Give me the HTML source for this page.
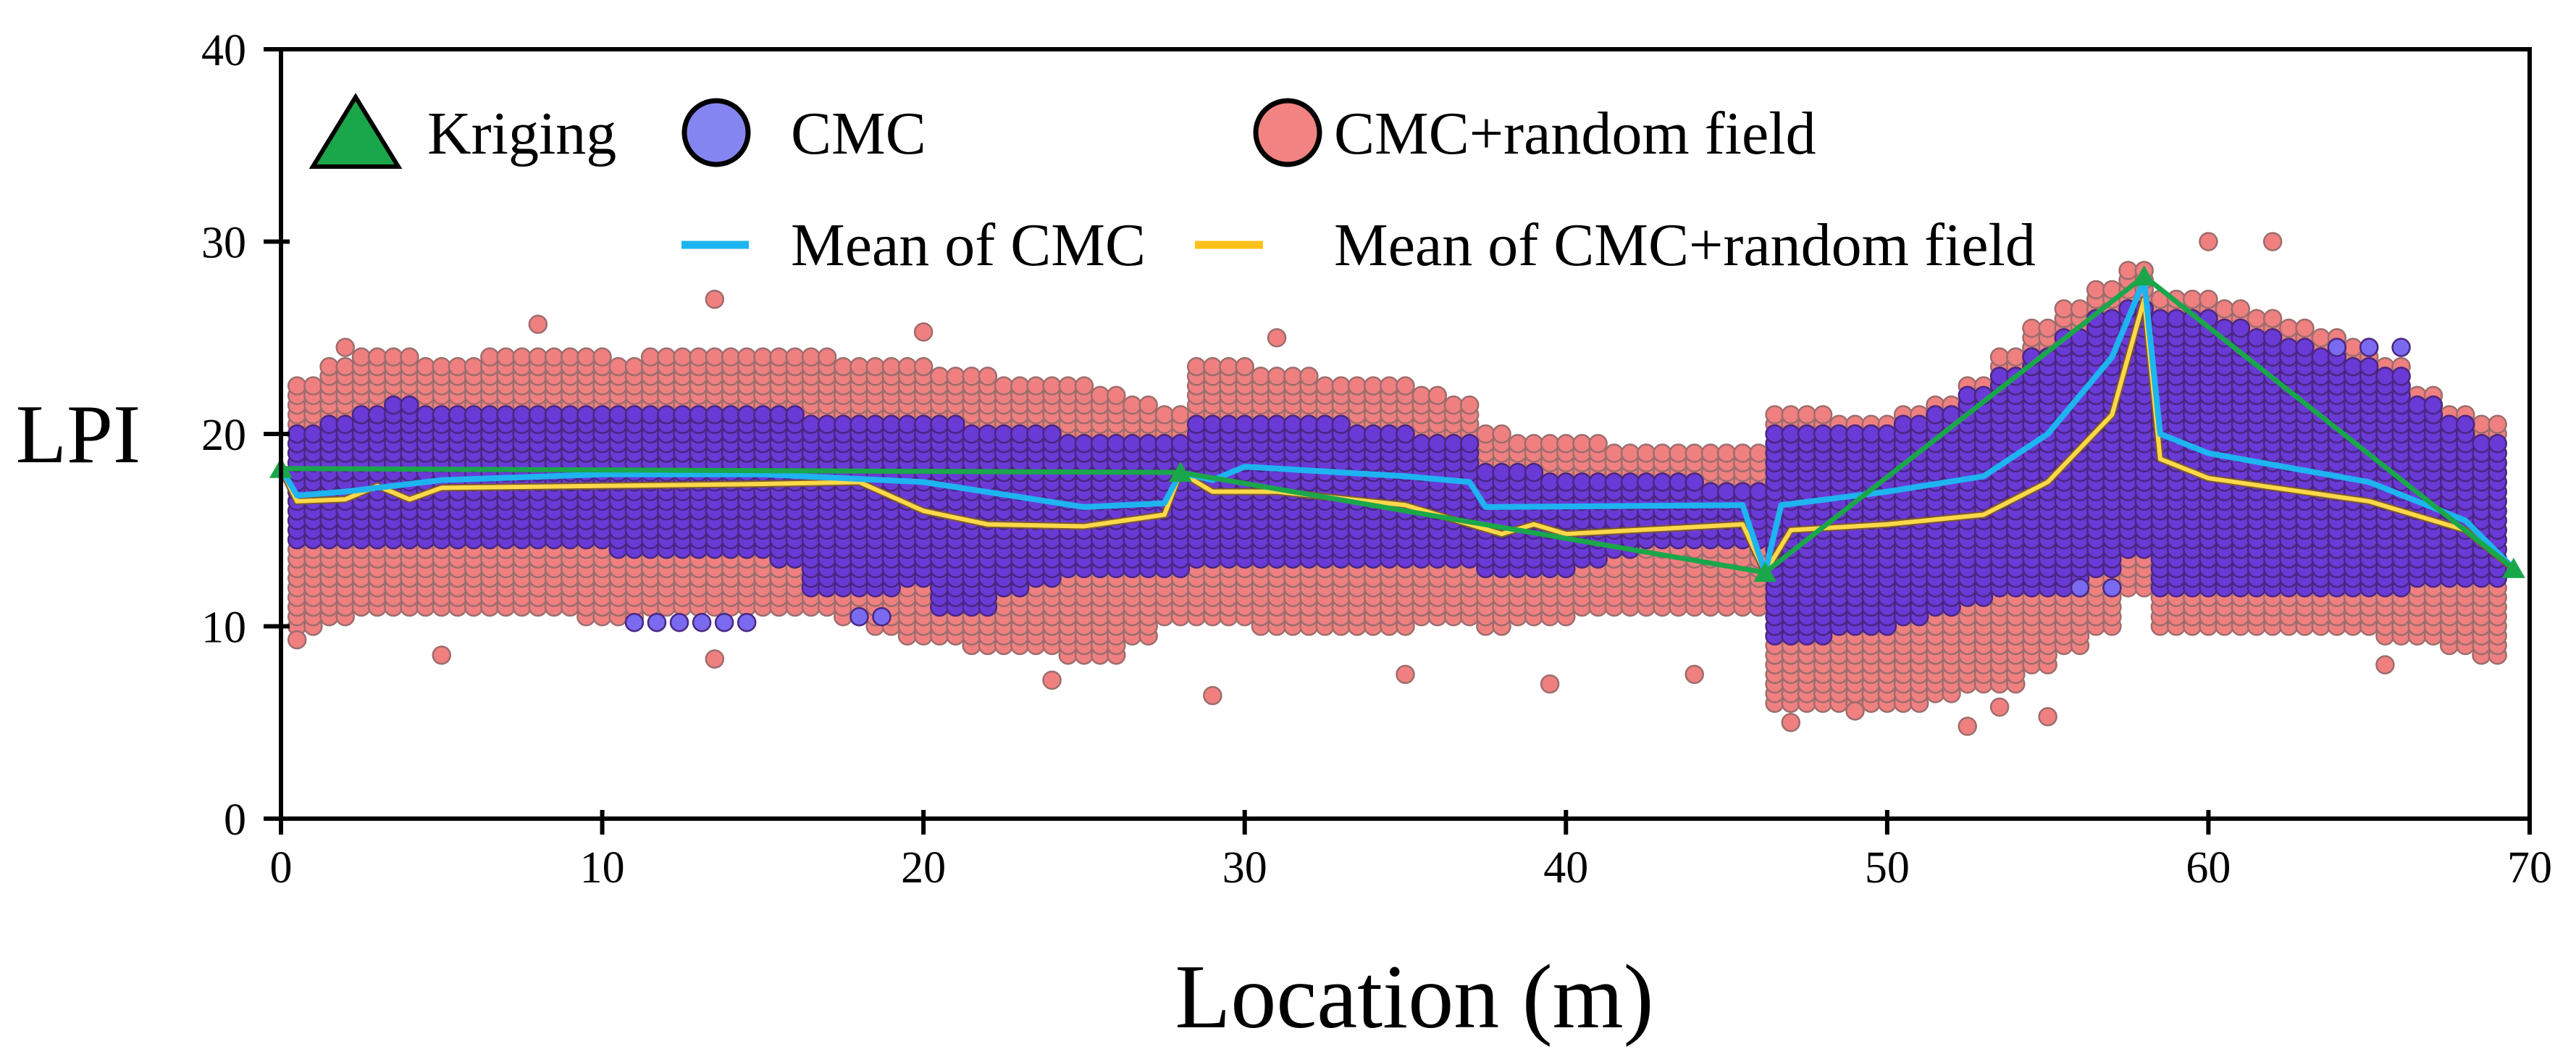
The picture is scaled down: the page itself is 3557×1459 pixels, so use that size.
<!DOCTYPE html>
<html><head><meta charset="utf-8"><style>
html,body{margin:0;padding:0;background:#fff;}
svg{display:block;font-family:"Liberation Serif",serif;}
</style></head><body>
<svg id="chart" width="3557" height="1459" viewBox="0 0 3557 1459">
<g id="rf"></g>
<g id="cmc"></g>
<g id="lines"></g>
<g id="axes"></g>
<g id="legend">
  <g>
    <polygon points="432,230 491,134 550,230" fill="#1aa64a" stroke="#000" stroke-width="6"/>
    <text x="590" y="212" font-size="84">Kriging</text>
  </g>
  <g>
    <circle cx="989" cy="183" r="44" fill="#8585f2" stroke="#000" stroke-width="7"/>
    <text x="1092" y="212" font-size="84">CMC</text>
  </g>
  <g>
    <circle cx="1778" cy="183" r="44" fill="#f28383" stroke="#000" stroke-width="7"/>
    <text x="1842" y="212" font-size="84">CMC+random field</text>
  </g>
  <g>
    <line x1="941" y1="338" x2="1034" y2="338" stroke="#1eb4f0" stroke-width="11"/>
    <text x="1092" y="366" font-size="84">Mean of CMC</text>
  </g>
  <g>
    <line x1="1650" y1="338" x2="1744" y2="338" stroke="#ffc21a" stroke-width="11"/>
    <text x="1842" y="366" font-size="84">Mean of CMC+random field</text>
  </g>
</g>
<text x="108" y="638" font-size="115" text-anchor="middle">LPI</text>
<text x="1953" y="1418" font-size="126" text-anchor="middle">Location (m)</text>
</svg>
<script>
const xTicks=[0,10,20,30,40,50,60,70];
const yTicks=[0,10,20,30,40];
const locs=[0.5,1.5,2.5,3.5,4.5,5.5,6.5,7.5,8.5,9.5,10.5,11.5,12.5,13.5,14.5,15.5,16.5,17.5,18.5,19.5,20.5,21.5,22.5,23.5,24.5,25.5,26.5,27.5,
28.5,29.5,30.5,31.5,32.5,33.5,34.5,35.5,36.5,37.5,38.5,39.5,40.5,41.5,42.5,43.5,44.5,45.5,
46.5,47.5,48.5,49.5,50.5,51.5,52.5,53.5,54.5,55.5,56.5,57.5,
58.5,59.5,60.5,61.5,62.5,63.5,64.5,65.5,66.5,67.5,68.5];
const cmcLo=[14.5,14.5,14.5,14.5,14.5,14.5,14.5,14.5,14.5,14.5,14,14,14,14,14,13.5,12,12,12,12.5,11,11,12,12.5,13,13,13,13,
13.5,13.5,13.5,13.5,13.5,13.5,13.5,13.5,13.5,13,13,13,13.5,14,14.5,14.5,14.5,14.5,
9.5,9.5,10,10,10.5,11,11.5,12,12,12,13,14,
12,12,12,12,12,12,12,12,12.5,12.5,12.5];
const cmcHi=[20,20.5,21,21.5,21,21,21,21,21,21,21,21,21,21,21,21,20.5,20.5,20.5,20.5,20.5,20,20,20,19.5,19.5,19.5,19.5,
20.5,20.5,20.5,20.5,20.5,20,20,19.5,19.5,18,18,17.5,17.5,17.5,17.5,17.5,17,17,
20,20,20,20,20.5,21,22,23,24,25,26,26.5,
26,26,25.5,25,24.5,24,23.5,23,21.5,20.5,19.5];
const rfLo=[10,10.5,11,11,11,11,11,11,11,10.5,10.5,11,11,11,11,11,11,10.5,10,9.5,9.5,9,9,9,8.5,8.5,9.5,10.5,
10.5,10.5,10,10,10,10,10,10.5,10.5,10,10.5,10.5,11,11,11,11,11,11,
6,6,6,6,6,6.5,7,7,8,9,10,12,
10,10,10,10,10,10,10,9.5,9.5,9,8.5];
const rfHi=[22.5,23.5,24,24,23.5,23.5,24,24,24,24,23.5,24,24,24,24,24,24,23.5,23.5,23.5,23,23,22.5,22.5,22.5,22,21.5,21,
23.5,23.5,23,23,22.5,22.5,22.5,22,21.5,20,19.5,19.5,19.5,19,19,19,19,19,
21,21,20.5,20.5,21,21.5,22.5,24,25.5,26.5,27.5,28.5,
27,27,26.5,26,25.5,25,24.5,23.5,22,21,20.5];
const rfOutX=[0.5,5,13.5,13.5,8,20,29,31,39.5,44,52.5,60,62,47,55,65.5,2,24,35,49,53.5];
const rfOutY=[9.3,8.5,27,8.3,25.7,25.3,6.4,25,7,7.5,4.8,30,30,5,5.3,8,24.5,7.2,7.5,5.6,5.8];
const cmcOutX=[11,11.7,12.4,13.1,13.8,14.5,18,18.7,64,65,66,57,56];
const cmcOutY=[10.2,10.2,10.2,10.2,10.2,10.2,10.5,10.5,24.5,24.5,24.5,12,12];
const meanCmcX=[0,0.5,2,5,10,15,20,25,27.5,28,29,30,35,37,37.5,45.5,46.2,46.7,50,53,55,57,58,58.5,60,65,68,69.5];
const meanCmcY=[18.2,16.8,17,17.6,17.9,17.9,17.5,16.2,16.4,18,17.6,18.3,17.8,17.5,16.2,16.3,12.8,16.3,17,17.8,20,24,28,20,19,17.5,15.5,13];
const meanRfX=[0,0.5,2,3,4,5,10,15,18,20,22,25,27.5,28,29,31,35,38,39,40,45.5,46.2,47,50,53,55,57,58,58.5,60,65,68,69.5];
const meanRfY=[18.2,16.5,16.6,17.3,16.6,17.2,17.3,17.4,17.5,16,15.3,15.2,15.8,18,17,17,16.3,14.8,15.3,14.8,15.3,12.8,15,15.3,15.8,17.5,21,27,18.7,17.7,16.5,15,13];
const krigX=[0,28,46.2,58,69.5];
const krigY=[18.2,18,12.8,28.2,13];

const X0=388,X1=3493,Y0=1130,Y1=68;
const sx=v=>X0+(v-0)/(70-0)*(X1-X0);
const sy=v=>Y0-(v-0)/(40-0)*(Y0-Y1);
const NS='http://www.w3.org/2000/svg';
function mk(tag,parent,attrs){const e=document.createElementNS(NS,tag);for(const k in attrs)e.setAttribute(k,attrs[k]);parent.appendChild(e);return e;}
const gRf=document.getElementById('rf'),gCmc=document.getElementById('cmc'),gL=document.getElementById('lines'),gA=document.getElementById('axes');

function column(g,x,lo,hi,fill,stroke,name){
  for(let v=lo;v<=hi+1e-9;v+=0.5){
    const c=mk('circle',g,{cx:sx(x),cy:sy(v),r:12,fill:fill,stroke:stroke,'stroke-width':2.5});
    
    
  }
}
locs.forEach((x,i)=>{
  [0,0.5].forEach(d=>column(gRf,x+d,rfLo[i],rfHi[i],'#f08080','#9c6d6d','rf-point'));
});
rfOutX.forEach((x,i)=>{const c=mk('circle',gRf,{cx:sx(x),cy:sy(rfOutY[i]),r:12,fill:'#f08080',stroke:'#9c6d6d','stroke-width':2.5});
  
  });
locs.forEach((x,i)=>{
  [0,0.5].forEach(d=>column(gCmc,x+d,cmcLo[i],cmcHi[i],'#6a3ad6','#4a2680','cmc-point'));
});
cmcOutX.forEach((x,i)=>{const c=mk('circle',gCmc,{cx:sx(x),cy:sy(cmcOutY[i]),r:12,fill:'#7a6af0',stroke:'#4a2680','stroke-width':2.5});
  
  });

function poly(xs,ys,color,w,name){
  const p=mk('polyline',gL,{points:xs.map((x,i)=>sx(x)+','+sy(ys[i])).join(' '),fill:'none',stroke:color,'stroke-width':w,'stroke-linejoin':'round'});
  
  
}
poly(meanRfX,meanRfY,'#7a5a30',10,'mean-cmc-random-field-outline');
poly(meanRfX,meanRfY,'#ffd84a',6,'mean-cmc-random-field-line');
poly(meanCmcX,meanCmcY,'#1eb4f0',8,'mean-cmc-line');
poly(krigX,krigY,'#1aa64a',7,'kriging-line');
krigX.forEach((x,i)=>{const cx=sx(x),cy=sy(krigY[i]);
  const t=mk('polygon',gL,{points:`${cx-16},${cy+13} ${cx},${cy-15} ${cx+16},${cy+13}`,fill:'#1aa64a'});
  
  });

const frame=mk('rect',gA,{x:X0,y:Y1,width:X1-X0,height:Y0-Y1,fill:'none',stroke:'#000','stroke-width':6});


xTicks.forEach(v=>{
  const t=mk('line',gA,{x1:sx(v),x2:sx(v),y1:Y0-12,y2:Y0+22,stroke:'#000','stroke-width':6});
  
  
  const l=mk('text',gA,{x:sx(v),y:Y0+88,'font-size':62,'text-anchor':'middle'});l.textContent=v;
  
  
});
yTicks.forEach(v=>{
  const t=mk('line',gA,{x1:X0-24,x2:X0+12,y1:sy(v),y2:sy(v),stroke:'#000','stroke-width':6});
  
  
  const l=mk('text',gA,{x:X0-48,y:sy(v)+22,'font-size':62,'text-anchor':'end'});l.textContent=v;
  
  
});
</script>
</body></html>
